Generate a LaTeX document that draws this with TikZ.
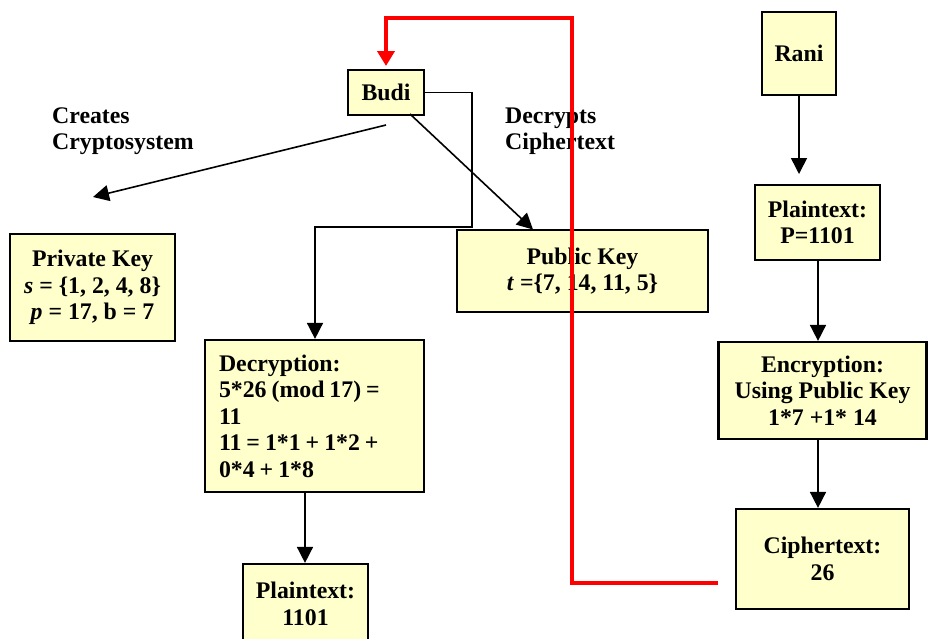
\documentclass[tikz,border=0pt]{standalone}
\usepackage{fontspec}
\setmainfont{Liberation Serif}
\usetikzlibrary{arrows.meta,calc}
\definecolor{boxfill}{HTML}{FFFFCC}
\definecolor{redline}{HTML}{FF0000}
\newcommand{\mytightspace}{\spaceskip=0.21em plus 0.05em\relax}
\tikzset{
  box/.style={draw=black, line width=2.2pt, fill=boxfill, inner sep=0pt, align=center,
    font=\bfseries\fontsize{23.8}{26.5}\selectfont},
  lbl/.style={inner sep=0pt, align=left, anchor=west, font=\bfseries\fontsize{23.8}{26.5}\selectfont},
  conn/.style={draw=black, line width=1.6pt, -{Triangle[length=16pt,width=16pt]}},
  redconn/.style={draw=redline, line width=4.5pt, -{Triangle[length=15pt,width=17pt]}}
}
\begin{document}
\begin{tikzpicture}[x=1pt,y=-1pt]
\useasboundingbox (0,0) rectangle (928,638);
\fill[white] (0,0) rectangle (928,638);
% boxes
\node[box, minimum width=76pt, minimum height=45pt] (budi) at (386,92.5) {Budi};
\node[box, minimum width=74pt, minimum height=83pt] (rani) at (799,53.5) {Rani};
\node[box, minimum width=165pt, minimum height=107pt] (priv) at (92.5,287.5) {Private Key\\\textit{s} = \{1, 2, 4, 8\}\\\textit{p} = 17, b = 7};
\node[box, minimum width=251pt, minimum height=82pt] (pub) at (582.5,271) {Public Key\\\textit{t} =\{7, 14, 11, 5\}};
\node[box, minimum width=125pt, minimum height=75pt] (plainp) at (817.5,222.5) {Plaintext:\\P=1101};
\node[box, minimum width=208pt, minimum height=97pt] (enc) at (822.5,390.5) {Encryption:\\Using Public Key\\1*7 +1* 14};
\node[box, minimum width=173pt, minimum height=100pt] (ciph) at (822.5,559) {Ciphertext:\\26};
\node[box, minimum width=219pt, minimum height=152pt, text width=191pt, align=left] (dec) at (314.5,416) {\mytightspace Decryption:\\5*26 (mod 17) =\\11\\11 = 1*1 + 1*2 +\\0*4 + 1*8};
\node[box, minimum width=125pt, minimum height=80pt] (plainq) at (305.5,604) {Plaintext:\\1101};
% labels
\node[lbl] (creates) at (52,131) {Creates\\Cryptosystem};
\node[lbl] (decrypts) at (505,131) {Decrypts\\Ciphertext};
% free end / helper coordinates
\coordinate (b1) at (386,125);
\coordinate (privtip) at (93,197);
\coordinate (b2) at (410,114);
\coordinate (pubtip) at (533,229.5);
\coordinate (ranitip) at (799,174);
\coordinate (redstart) at (718,583);
\coordinate (redc1) at (572,583);
\coordinate (redc2) at (572,18);
\coordinate (redc3) at (386,18);
\coordinate (buditip) at (386,66);
\coordinate (e1) at (472,92.5);
\coordinate (e2) at (472,227);
\coordinate (e3) at (315,227);
\coordinate (x315) at (315,0);
\coordinate (x818) at (818,0);
\coordinate (x305) at (305,0);
% connectors
\draw[conn] (b1) -- (privtip);
\draw[conn] (b2) -- (pubtip);
\draw[conn] (budi.east) -- (e1) -- (e2) -- (e3) -- (x315 |- dec.north);
\draw[conn] (rani.south) -- (ranitip);
\draw[conn] (x818 |- plainp.south) -- (x818 |- enc.north);
\draw[conn] (x818 |- enc.south) -- (x818 |- ciph.north);
\draw[conn] (x305 |- dec.south) -- (x305 |- plainq.north);
\draw[redconn] (redstart) -- (redc1) -- (redc2) -- (redc3) -- (buditip);
\end{tikzpicture}
\end{document}
